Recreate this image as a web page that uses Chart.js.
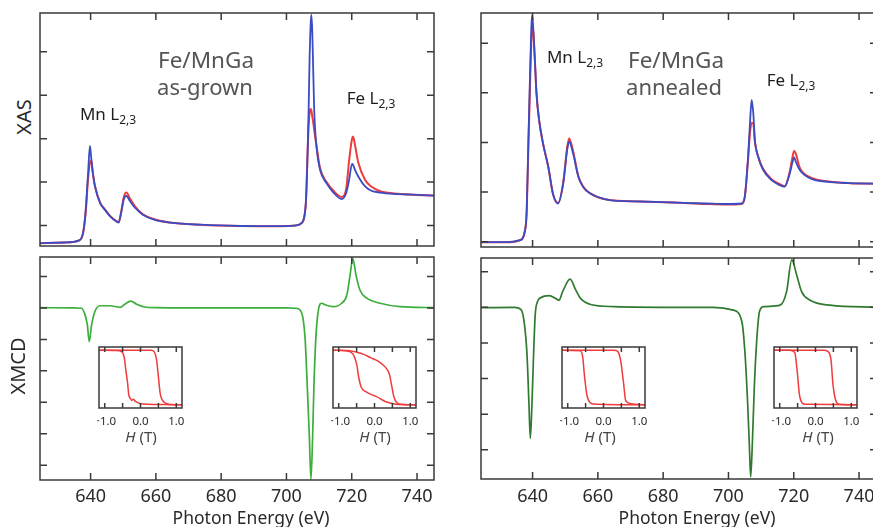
<!DOCTYPE html>
<html>
<head>
<meta charset="utf-8">
<script src="https://cdn.jsdelivr.net/npm/chart.js@4"></script>
<style>
body { margin: 0; width: 873px; height: 527px; overflow: hidden; background: #fff; position: relative; font-family: 'Noto Sans', sans-serif; }
canvas { position: absolute; }
.t { position: absolute; white-space: nowrap; line-height: 1; transform: translate(-50%, -50%); color: #2a2a2a; }
.t sub { font-size: 12px; vertical-align: -4px; }
.rot { transform: translate(-50%, -50%) rotate(-90deg); }
</style>
</head>
<body>
<canvas id="xasL" width="398" height="237" style="left:38px;top:11px"></canvas>
<canvas id="xasR" width="400" height="238" style="left:479px;top:11px"></canvas>
<canvas id="mcdL" width="398" height="272" style="left:38px;top:255px"></canvas>
<canvas id="mcdR" width="400" height="271" style="left:479px;top:256px"></canvas>
<canvas id="inA" width="87" height="83" style="left:97px;top:345px"></canvas>
<canvas id="inB" width="87" height="83" style="left:331px;top:345px"></canvas>
<canvas id="inC" width="87" height="83" style="left:560px;top:345px"></canvas>
<canvas id="inD" width="87" height="83" style="left:772px;top:345px"></canvas>

<div class="t rot" style="left:24px;top:117px;font-size:20px">XAS</div>
<div class="t rot" style="left:18px;top:366px;font-size:20px">XMCD</div>
<div class="t" style="left:206px;top:60px;font-size:22.5px;color:#555">Fe/MnGa</div>
<div class="t" style="left:205px;top:86px;font-size:22px;color:#555">as-grown</div>
<div class="t" style="left:108px;top:115px;font-size:17px;color:#1e1e1e">Mn L<sub>2,3</sub></div>
<div class="t" style="left:371px;top:99px;font-size:17px;color:#1e1e1e">Fe L<sub>2,3</sub></div>
<div class="t" style="left:676px;top:60px;font-size:22.5px;color:#555">Fe/MnGa</div>
<div class="t" style="left:674px;top:86px;font-size:22px;color:#555">annealed</div>
<div class="t" style="left:575px;top:58px;font-size:17px;color:#1e1e1e">Mn L<sub>2,3</sub></div>
<div class="t" style="left:791px;top:81px;font-size:17px;color:#1e1e1e">Fe L<sub>2,3</sub></div>
<div class="t" style="left:251px;top:518px;font-size:17.5px">Photon Energy (eV)</div>
<div class="t" style="left:697px;top:518px;font-size:17.5px">Photon Energy (eV)</div>
<div class="t" style="left:141px;top:436px;font-size:15px;color:#444"><i>H</i> (T)</div>
<div class="t" style="left:375px;top:436px;font-size:15px;color:#444"><i>H</i> (T)</div>
<div class="t" style="left:600px;top:436px;font-size:15px;color:#444"><i>H</i> (T)</div>
<div class="t" style="left:818px;top:436px;font-size:15px;color:#444"><i>H</i> (T)</div>

<script>
// tick positions
const energyTicks = [640, 660, 680, 700, 720, 740];
const xasTicks = [1, 2, 3, 4, 5];
const mcdTicksL = [1, 0, -1, -2, -3, -4, -5];
const mcdTicksR = [1, 0, -1, -2, -3, -4];
const fieldTicks = [-1, -0.5, 0, 0.5, 1];

// XAS as-grown (blue / red helicity)
const asE = [624.5, 632, 636.5, 637.7, 638.5, 639.2, 639.8, 640.2, 640.7, 641.3,
  642.9, 644.4, 645.9, 647.8, 648.6, 649.4, 650.2, 651.0, 652.0, 653.6,
  656.0, 659.7, 664.3, 673.5, 685.8, 698, 702.6, 704.7, 705.4, 706.0,
  706.5, 706.8, 707.1, 707.4, 707.6, 707.9, 708.1, 708.5, 709.3, 710.3,
  712.3, 714.4, 716.9, 718.3, 719.2, 720.1, 720.4, 721.0, 722.0, 724.1,
  726.0, 728.7, 733.0, 738.9, 745.5];
const asBlue = [0.595, 0.61, 0.66, 0.83, 1.36, 2.17, 2.83, 2.55, 2.2, 1.92,
  1.52, 1.36, 1.22, 1.10, 1.07, 1.31, 1.61, 1.68, 1.57, 1.41,
  1.25, 1.13, 1.07, 1.02, 0.99, 0.985, 1.0, 1.06, 1.18, 1.6,
  2.74, 3.7, 4.9, 5.6, 5.85, 5.5, 4.9, 3.66, 2.74, 2.28,
  1.97, 1.76, 1.61, 1.75, 2.05, 2.42, 2.4, 2.28, 2.13, 1.9,
  1.8, 1.76, 1.73, 1.71, 1.69];
const asRed = [0.595, 0.61, 0.66, 0.83, 1.3, 2.05, 2.45, 2.49, 2.2, 1.92,
  1.53, 1.37, 1.23, 1.11, 1.08, 1.33, 1.66, 1.76, 1.63, 1.44,
  1.26, 1.14, 1.07, 1.02, 0.99, 0.985, 1.0, 1.06, 1.18, 1.6,
  2.74, 3.3, 3.6, 3.68, 3.66, 3.52, 3.42, 3.2, 2.78, 2.32,
  2.0, 1.8, 1.66, 1.85, 2.5, 3.0, 3.05, 2.85, 2.45, 2.05,
  1.9, 1.79, 1.74, 1.71, 1.69];

// XAS annealed
const anE = [624.3, 632, 636.1, 637.6, 638.2, 638.7, 639.2, 639.6, 639.9, 640.2,
  640.7, 641.2, 642.0, 643.2, 644.8, 646.3, 647.8, 649.4, 650.6, 651.2,
  652.4, 654.0, 655.5, 657.5, 662.7, 672.9, 683.0, 693.3, 699.4, 704.0,
  705.0, 706.0, 706.6, 707.1, 707.6, 708.1, 709.1, 710.6, 713.2, 715.7,
  717.2, 718.8, 719.6, 720.1, 720.6, 721.8, 724.9, 730.0, 737.1, 745.5];
const anBlue = [0.99, 0.99, 1.03, 1.2, 1.64, 2.98, 4.33, 5.3, 5.57, 5.3,
  4.66, 3.99, 3.45, 2.98, 2.51, 1.95, 1.77, 2.18, 2.85, 3.02,
  2.78, 2.31, 2.1, 1.98, 1.85, 1.81, 1.79, 1.77, 1.76, 1.77,
  1.91, 2.7, 3.4, 3.86, 3.6, 3.05, 2.71, 2.45, 2.24, 2.14,
  2.11, 2.38, 2.6, 2.7, 2.62, 2.45, 2.28, 2.21, 2.18, 2.17];
const anRed = [0.99, 0.99, 1.03, 1.2, 1.6, 2.9, 4.1, 5.0, 5.3, 5.25,
  4.66, 3.99, 3.45, 2.98, 2.51, 1.95, 1.78, 2.2, 2.9, 3.08,
  2.83, 2.33, 2.11, 1.98, 1.85, 1.81, 1.79, 1.76, 1.75, 1.76,
  1.9, 2.65, 3.2, 3.4, 3.38, 3.0, 2.72, 2.47, 2.26, 2.16,
  2.12, 2.42, 2.7, 2.83, 2.78, 2.5, 2.3, 2.22, 2.18, 2.17];

// XMCD
const asMcdE = [624.5, 634.7, 637.2, 638.3, 639.0, 639.6, 640.3, 641.3, 642.9, 645.9,
  649.0, 650.5, 652.3, 654.1, 656.6, 660.2, 680, 700, 703.1, 704.7,
  705.7, 706.4, 707.0, 707.5, 708.0, 708.4, 709.0, 709.8, 710.8, 711.8,
  714.4, 716.9, 718.5, 719.5, 720.3, 721.3, 722.5, 724.6, 728.7, 734.8,
  745.5];
const asMcd = [0.01, 0.0, -0.01, -0.22, -0.54, -1.07, -0.54, -0.12, 0.07, 0.07,
  0.02, 0.12, 0.22, 0.12, 0.03, 0.01, 0, 0, -0.01, -0.17,
  -0.96, -2.55, -4.04, -5.45, -4.16, -2.55, -0.96, -0.06, 0.15, 0.10,
  0.04, 0.15, 0.41, 1.05, 1.58, 1.05, 0.57, 0.31, 0.15, 0.04,
  0.01];
const anMcdE = [624.2, 634.4, 636.4, 637.4, 638.3, 638.9, 639.3, 639.8, 640.3, 640.8,
  641.5, 642.5, 645.1, 647.1, 648.1, 649.2, 651.5, 653.2, 654.7, 657.8,
  664.9, 685.3, 695.4, 701.5, 704.1, 705.1, 705.9, 706.4, 706.8, 707.3,
  707.9, 708.7, 709.5, 710.7, 715.8, 717.8, 719.4, 720.9, 722.4, 725.0,
  731.1, 745.5];
const anMcd = [-0.01, 0, -0.06, -0.4, -1.34, -2.74, -3.68, -2.74, -1.34, -0.22,
  0.16, 0.27, 0.33, 0.25, 0.2, 0.44, 0.79, 0.49, 0.25, 0.08,
  0.02, 0, 0, -0.08, -0.4, -1.34, -2.74, -3.87, -4.76, -3.87,
  -2.28, -0.87, -0.12, 0.02, 0.06, 0.44, 1.33, 0.91, 0.44, 0.2,
  0.06, 0];

// hysteresis loops (field sweep up / down)
const mnAsUpH = [-1.16, 0.3, 0.38, 0.45, 0.5, 0.55, 0.64, 0.86, 1.16];
const mnAsUpM = [1, 1, 0.95, 0.64, 0.03, -0.58, -0.88, -0.99, -1];
const mnAsDnH = [1.16, 0.6, 0.0, -0.14, -0.2, -0.24, -0.29, -0.33, -0.36, -0.41, -0.45, -0.52, -0.7, -1.16];
const mnAsDnM = [-1, -0.99, -0.96, -0.88, -0.8, -0.84, -0.76, -0.62, -0.21, 0.27, 0.7, 0.94, 0.99, 1];
const feAsUpH = [-1.16, -0.75, -0.5, -0.3, -0.1, 0.1, 0.25, 0.35, 0.42, 0.48, 0.54, 0.62, 0.75, 1.16];
const feAsUpM = [1, 0.99, 0.93, 0.85, 0.72, 0.6, 0.45, 0.3, 0.1, -0.3, -0.7, -0.92, -0.98, -1];
const feAsDnH = [1.16, 0.6, 0.3, 0.06, -0.1, -0.23, -0.37, -0.44, -0.5, -0.6, -0.76, -1.16];
const feAsDnM = [-1, -0.98, -0.88, -0.7, -0.62, -0.53, -0.36, 0.0, 0.5, 0.86, 0.97, 1];
const mnAnUpH = [-1.16, 0.3, 0.39, 0.48, 0.56, 0.62, 0.76, 1.16];
const mnAnUpM = [1, 1, 0.97, 0.62, -0.2, -0.85, -0.96, -1];
const mnAnDnH = [1.16, -0.3, -0.37, -0.46, -0.53, -0.58, -0.65, -1.16];
const mnAnDnM = [-1, -0.97, -0.93, -0.67, 0.04, 0.74, 0.98, 1];
const feAnUpH = [-1.16, 0.25, 0.33, 0.43, 0.49, 0.57, 0.66, 1.16];
const feAnUpM = [1, 1, 0.97, 0.68, -0.27, -0.86, -0.98, -1];
const feAnDnH = [1.16, -0.28, -0.36, -0.45, -0.51, -0.58, -0.72, -1.16];
const feAnDnM = [-1, -0.98, -0.95, -0.62, 0.21, 0.92, 1, 1];

const BLUE = '#3a4cc4', RED = '#ef3b3b', GREEN = '#3cae3c', DKGREEN = '#2f7a2f';

// frame + inward tick marks, using the chart's own scales
function frame(xt, yt, len) {
    return {
        id: 'frame',
        afterDatasetsDraw(chart) {
            const { ctx, chartArea: a, scales: { x, y } } = chart;
            ctx.save();
            ctx.strokeStyle = '#3a3a3a';
            ctx.lineWidth = 1.5;
            ctx.strokeRect(a.left, a.top, a.right - a.left, a.bottom - a.top);
            ctx.beginPath();
            xt.forEach(v => {
                const px = x.getPixelForValue(v);
                ctx.moveTo(px, a.bottom); ctx.lineTo(px, a.bottom - len);
                ctx.moveTo(px, a.top); ctx.lineTo(px, a.top + len);
            });
            yt.forEach(v => {
                const py = y.getPixelForValue(v);
                ctx.moveTo(a.left, py); ctx.lineTo(a.left + len, py);
                ctx.moveTo(a.right, py); ctx.lineTo(a.right - len, py);
            });
            ctx.stroke();
            ctx.restore();
        }
    };
}

function line(xs, ys, color, w) {
    return {
        data: xs.map((x, i) => ({ x: x, y: ys[i] })),
        borderColor: color, borderWidth: w, pointRadius: 0,
        cubicInterpolationMode: 'monotone', fill: false
    };
}

function makeChart(id, sets, o) {
    const x = {
        type: 'linear', min: o.xmin, max: o.xmax,
        display: !!o.labels,
        grid: { display: false, drawTicks: false },
        border: { display: false },
        afterBuildTicks: s => { s.ticks = o.xt.map(v => ({ value: v })); },
        ticks: {
            color: '#2a2a2a', padding: o.tickPad || 7,
            font: { family: "'Noto Sans', sans-serif", size: o.fontSize || 18 },
            maxRotation: 0, autoSkip: false,
            callback: o.fmt || (v => v)
        },
        afterFit: s => { s.height = o.axisH || 0; s.paddingLeft = 0; s.paddingRight = 0; }
    };
    return new Chart(document.getElementById(id), {
        type: 'line',
        data: { datasets: sets },
        options: {
            responsive: false, animation: false, events: [],
            layout: { padding: { left: 2, right: 2, top: 2, bottom: o.labels ? 0 : 2 } },
            plugins: { legend: { display: false }, tooltip: { enabled: false } },
            scales: { x: x, y: { type: 'linear', min: o.ymin, max: o.ymax, display: false } }
        },
        plugins: [frame(o.xt, o.yt, o.len || 7)]
    });
}

makeChart('xasL', [line(asE, asBlue, BLUE, 1.8), line(asE, asRed, RED, 2)],
    { xmin: 624.5, xmax: 745.2, ymin: 0.53, ymax: 5.89, xt: energyTicks, yt: xasTicks });
makeChart('xasR', [line(anE, anBlue, BLUE, 1.8), line(anE, anRed, RED, 2)],
    { xmin: 624.2, xmax: 745.5, ymin: 0.893, ymax: 5.61, xt: energyTicks, yt: xasTicks });
makeChart('mcdL', [line(asMcdE, asMcd, GREEN, 1.7)],
    { xmin: 624.5, xmax: 745.2, ymin: -5.47, ymax: 1.62, xt: energyTicks, yt: mcdTicksL, labels: true, axisH: 47, tickPad: 6 });
makeChart('mcdR', [line(anMcdE, anMcd, DKGREEN, 1.7)],
    { xmin: 624.2, xmax: 745.5, ymin: -4.82, ymax: 1.385, xt: energyTicks, yt: mcdTicksR, labels: true, axisH: 48, tickPad: 7 });

const fieldFmt = v => Number.isInteger(v) ? v.toFixed(1).replace('-', '\u2212') : '';
const insetOpts = { xmin: -1.16, xmax: 1.16, ymin: -1.12, ymax: 1.12, xt: fieldTicks, yt: [], labels: true,
    axisH: 20, fontSize: 11.5, tickPad: 7, len: 5, fmt: fieldFmt };
makeChart('inA', [line(mnAsUpH, mnAsUpM, RED, 1.5), line(mnAsDnH, mnAsDnM, RED, 1.5)], insetOpts);
makeChart('inB', [line(feAsUpH, feAsUpM, RED, 1.5), line(feAsDnH, feAsDnM, RED, 1.5)], insetOpts);
makeChart('inC', [line(mnAnUpH, mnAnUpM, RED, 1.5), line(mnAnDnH, mnAnDnM, RED, 1.5)], insetOpts);
makeChart('inD', [line(feAnUpH, feAnUpM, RED, 1.5), line(feAnDnH, feAnDnM, RED, 1.5)], insetOpts);
</script>
</body>
</html>
